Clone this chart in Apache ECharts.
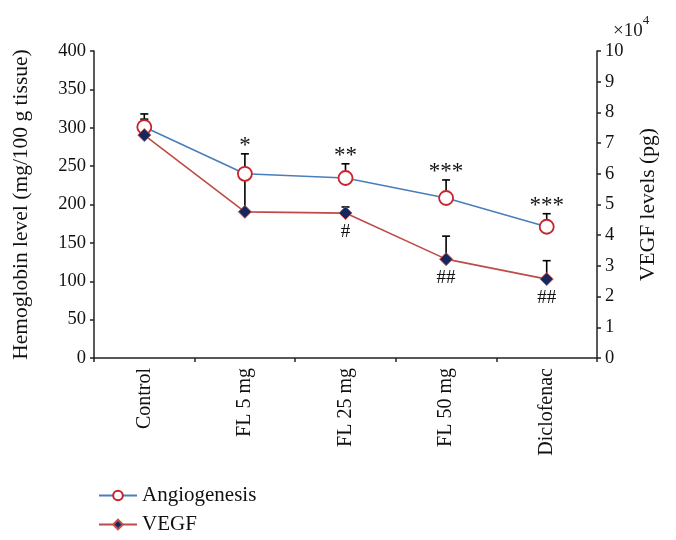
<!DOCTYPE html>
<html><head><meta charset="utf-8">
<script src="https://cdn.jsdelivr.net/npm/echarts@6/dist/echarts.min.js"></script>
<style>html,body{margin:0;padding:0;background:#fff}#c{width:676px;height:540px}</style>
</head><body><div id="c"></div>
<script>
const categories = ['Control', 'FL 5 mg', 'FL 25 mg', 'FL 50 mg', 'Diclofenac'];
const angiogenesis = [301, 240, 234.5, 208.5, 171];
const angioErr = [17, 26, 18.5, 23.5, 17];
const angioSig = ['', '*', '**', '***', '***'];
const vegf = [7.26, 4.76, 4.72, 3.22, 2.57];
const vegfErr = [0.52, 1.1, 0.2, 0.75, 0.6];
const vegfSig = ['', '', '#', '##', '##'];
const leftTicks = [0, 50, 100, 150, 200, 250, 300, 350, 400];
const rightTicks = [0, 1, 2, 3, 4, 5, 6, 7, 8, 9, 10];

const FONT = '"Liberation Serif", "DejaVu Serif", serif';
const chart = echarts.init(document.getElementById('c'), null, {renderer: 'canvas'});

function errRender(values, errs, sigs, sigBelow) {
  return function (params, api) {
    const i = api.value(0);
    const p = api.coord([i, values[i]]);
    const t = api.coord([i, values[i] + errs[i]]);
    const children = [
      {type: 'line', shape: {x1: p[0], y1: p[1], x2: t[0], y2: t[1]}, style: {stroke: '#000', lineWidth: 1.6}},
      {type: 'line', shape: {x1: t[0] - 4, y1: t[1], x2: t[0] + 4, y2: t[1]}, style: {stroke: '#000', lineWidth: 1.6}}
    ];
    if (sigs[i]) {
      children.push({
        type: 'text',
        style: sigBelow
          ? {text: sigs[i], x: p[0], y: p[1] + 19, align: 'center', verticalAlign: 'middle', font: '19px ' + FONT, fill: '#111'}
          : {text: sigs[i], x: t[0], y: t[1] + 4, align: 'center', verticalAlign: 'bottom', font: '23px ' + FONT, fill: '#111'}
      });
    }
    return {type: 'group', children: children};
  };
}

chart.setOption({
  animation: false,
  backgroundColor: '#fff',
  textStyle: {fontFamily: FONT},
  grid: {left: 94, right: 79, top: 51, bottom: 182},
  legend: {
    orient: 'vertical', left: 93, top: 480, itemWidth: 38, itemHeight: 12, itemGap: 8,
    textStyle: {fontFamily: FONT, fontSize: 21, color: '#111'},
    data: ['Angiogenesis', 'VEGF']
  },
  graphic: [{
    type: 'text', left: 613, top: 14,
    style: {rich: {a: {font: '19px ' + FONT, fill: '#222', padding: [8, 0, 0, 0]}, b: {font: '13px ' + FONT, fill: '#222', verticalAlign: 'top'}},
      text: '{a|×10}{b|4}'}
  }],
  xAxis: {
    type: 'category', data: categories, boundaryGap: true,
    axisLine: {lineStyle: {color: '#222', width: 1.5}},
    axisTick: {show: true, length: 4, lineStyle: {color: '#222', width: 1.5}},
    axisLabel: {rotate: 90, fontFamily: FONT, fontSize: 20, color: '#111', margin: 10}
  },
  yAxis: [{
    type: 'value', min: 0, max: 400, interval: 50, position: 'left',
    name: 'Hemoglobin level (mg/100 g tissue)', nameLocation: 'middle', nameGap: 62, nameRotate: 90,
    nameTextStyle: {fontFamily: FONT, fontSize: 21.5, color: '#111'},
    splitLine: {show: false},
    axisLine: {show: true, lineStyle: {color: '#222', width: 1.5}},
    axisTick: {show: true, length: 4, lineStyle: {color: '#222', width: 1.5}},
    axisLabel: {fontFamily: FONT, fontSize: 18.5, color: '#111', margin: 8, formatter: v => leftTicks.includes(v) ? String(v) : ''}
  }, {
    type: 'value', min: 0, max: 10, interval: 1, position: 'right',
    name: 'VEGF levels (pg)', nameLocation: 'middle', nameGap: 40, nameRotate: 90,
    nameTextStyle: {fontFamily: FONT, fontSize: 21.5, color: '#111'},
    splitLine: {show: false},
    axisLine: {show: true, lineStyle: {color: '#222', width: 1.5}},
    axisTick: {show: true, length: 4, lineStyle: {color: '#222', width: 1.5}},
    axisLabel: {fontFamily: FONT, fontSize: 18.5, color: '#111', margin: 8, formatter: v => rightTicks.includes(v) ? String(v) : ''}
  }],
  series: [
    {type: 'custom', yAxisIndex: 0, z: 1, silent: true, data: categories.map((c, i) => [i]),
     renderItem: errRender(angiogenesis, angioErr, angioSig, false), encode: {x: 0}},
    {type: 'custom', yAxisIndex: 1, z: 1, silent: true, data: categories.map((c, i) => [i]),
     renderItem: errRender(vegf, vegfErr, vegfSig, true), encode: {x: 0}},
    {name: 'Angiogenesis', type: 'line', yAxisIndex: 0, z: 3, data: angiogenesis,
     symbol: 'circle', symbolSize: 14,
     lineStyle: {color: '#4a7ebb', width: 1.6},
     itemStyle: {color: '#ffffff', borderColor: '#c8232c', borderWidth: 1.8, opacity: 1}},
    {name: 'VEGF', type: 'line', yAxisIndex: 1, z: 3, data: vegf,
     symbol: 'diamond', symbolSize: 13,
     lineStyle: {color: '#be4b48', width: 1.6},
     itemStyle: {color: '#14285e', borderColor: '#c0504d', borderWidth: 1}}
  ]
});
</script></body></html>
